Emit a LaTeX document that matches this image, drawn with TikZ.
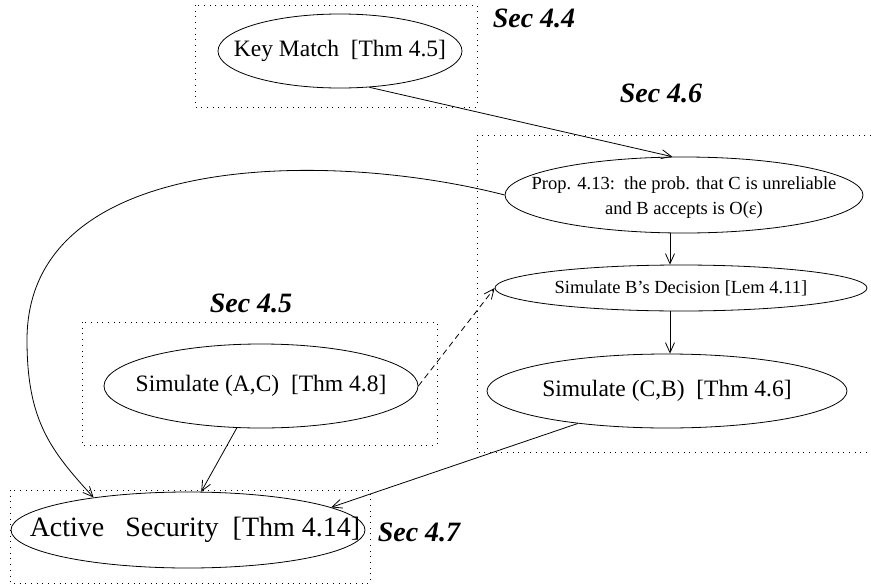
\documentclass[tikz,border=0pt]{standalone}
\usepackage{fontspec}
\setmainfont{Liberation Serif}
\usetikzlibrary{shapes.geometric, arrows.meta, positioning}

\tikzset{
	Stmt/.style = {ellipse, draw, line width=0.8pt, inner sep=0pt},
	SecBox/.style = {line width=1pt, dash pattern=on 1pt off 4.7pt},
	SecLabel/.style = {font=\fontsize{28}{30}\selectfont\bfseries\itshape, inner sep=0pt},
	EdgeStyle/.style = {line width=0.8pt, -{Straight Barb[length=10pt,width=9pt,line width=0.8pt]}},
	big/.style = {font=\fontsize{23.5}{27}\selectfont, inner sep=0pt},
	small/.style = {font=\fontsize{18.5}{25}\selectfont, inner sep=0pt, align=center}
}

\begin{document}
\begin{tikzpicture}[x=1pt,y=-1pt]
				\useasboundingbox (0,0) rectangle (871,584);
				
				% section boxes
				\draw[SecBox] (195,5) rectangle (477,107);
				\draw[SecBox] (871,135) -- (477,135) -- (477,452) -- (871,452);
				\draw[SecBox] (82,322) rectangle (437,445);
				\draw[SecBox] (10,490) rectangle (370,583);
				
				\node[SecLabel] (S44) at (534,18) {Sec 4.4};
				\node[SecLabel] (S46) at (661,93) {Sec 4.6};
				\node[SecLabel] (S45) at (251,303) {Sec 4.5};
				\node[SecLabel] (S47) at (419,532) {Sec 4.7};
				
				%%%%%%%%%%%%%%%%%%%%%%%%%%%%%%
				
				\node[Stmt, minimum width=244pt, minimum height=74pt, label={[big]center:Key Match\ \ [Thm 4.5]}] (KM) at (340,51) {};
				\node[Stmt, minimum width=358pt, minimum height=76pt, label={[small, yshift=-3pt]center:Prop. 4.13:\ \ the prob. that C is unreliable\\and B accepts is O(ε)}] (P413) at (684,195) {};
				\node[Stmt, minimum width=372pt, minimum height=46pt, label={[small]center:Simulate B’s Decision [Lem 4.11]}] (L411) at (681,288) {};
				\node[Stmt, minimum width=360pt, minimum height=74pt, label={[big]center:Simulate (C,B)\ \ [Thm 4.6]}] (T46) at (667,391) {};
				\node[Stmt, minimum width=314pt, minimum height=84pt, label={[big]center:Simulate (A,C)\ \ [Thm 4.8]}] (T48) at (261,386) {};
				\node[Stmt, minimum width=354pt, minimum height=76pt, label={[big, font=\fontsize{28}{32}\selectfont, xshift=7pt]center:Active\ \ \ Security\ \ [Thm 4.14]}] (T414) at (188,530) {};
				
				\coordinate (col) at (670,0);
				
				%%%%%%%%%%%%%%%%%%%%%%%%%%%%%%
				
				\draw[EdgeStyle] (KM.309) -- (P413.107);
				\draw[EdgeStyle] (P413.south -| col) -- (L411.north -| col);
				\draw[EdgeStyle] (L411.south -| col) -- (T46.north -| col);
				\draw[EdgeStyle, dash pattern=on 6pt off 4pt] (T48.east) -- (L411.west);
				\draw[EdgeStyle] (T48.240) -- (T414.71);
				\draw[EdgeStyle] (T46.200) -- (T414.9);
				\draw[EdgeStyle] (P413.west) .. controls (330,150) and (27,150) .. (27,340)
					.. controls (27,420) and (50,450) .. (T414.161);
				
			\end{tikzpicture}
\end{document}
